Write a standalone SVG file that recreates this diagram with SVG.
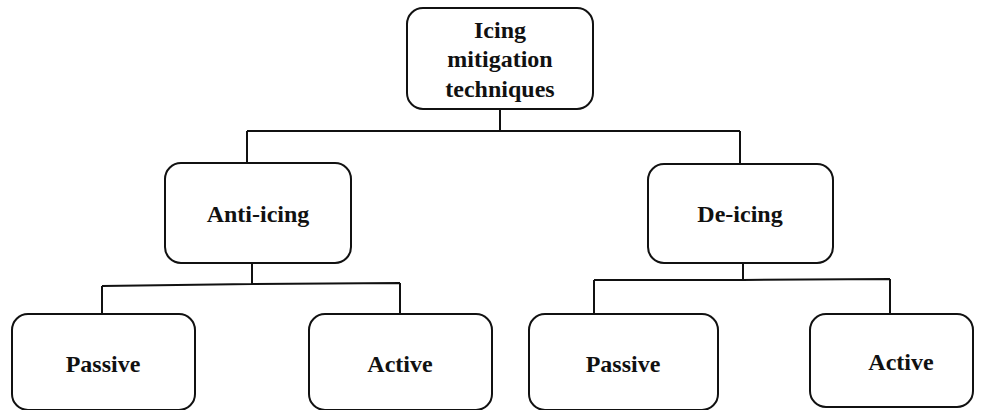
<svg xmlns="http://www.w3.org/2000/svg" width="985" height="410" viewBox="0 0 985 410">
<style>
.box{fill:#fff;stroke:#111;stroke-width:2}
.lbl{font-family:"Liberation Serif","Times New Roman",serif;font-weight:bold;font-size:24px;fill:#111;text-anchor:middle}
.con{fill:none;stroke:#111;stroke-width:2}
</style>
<rect width="985" height="410" fill="#fff"/>
<g id="connectors">
<path class="con" d="M500 110 V131 M247 131 H740 M247 131 V163 M740 131 V164"/>
<path class="con" d="M252 263 V284 M102 286 L252 284 L400 283 M102 286 V314 M400 283 V314"/>
<path class="con" d="M743 263 V280 M594 280 L743 280 L890 279 M594 280 V314 M890 279 V314"/>
</g>
<g id="root">
<rect class="box" x="407" y="8" width="186" height="101" rx="16"/>
<text class="lbl" x="500" y="38">Icing</text>
<text class="lbl" x="500" y="67">mitigation</text>
<text class="lbl" x="500" y="97">techniques</text>
</g>
<g id="anti">
<rect class="box" x="165" y="163" width="186" height="100" rx="16"/>
<text class="lbl" x="258" y="222">Anti-icing</text>
</g>
<g id="de">
<rect class="box" x="648" y="164" width="185" height="99" rx="16"/>
<text class="lbl" x="740" y="222">De-icing</text>
</g>
<g id="anti-passive">
<rect class="box" x="12" y="314" width="183" height="96" rx="16"/>
<text class="lbl" x="103" y="372">Passive</text>
</g>
<g id="anti-active">
<rect class="box" x="309" y="314" width="183" height="96" rx="16"/>
<text class="lbl" x="400" y="372">Active</text>
</g>
<g id="de-passive">
<rect class="box" x="529" y="314" width="189" height="96" rx="16"/>
<text class="lbl" x="623" y="372">Passive</text>
</g>
<g id="de-active">
<rect class="box" x="810" y="314" width="163" height="93" rx="16"/>
<text class="lbl" x="901" y="370">Active</text>
</g>
</svg>
